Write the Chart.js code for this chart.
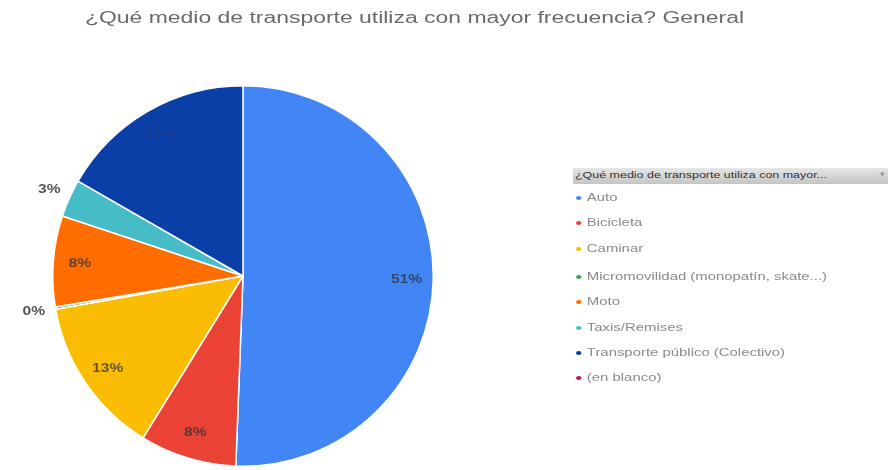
<!DOCTYPE html>
<html>
<head>
<meta charset="utf-8">
<script src="https://cdn.jsdelivr.net/npm/chart.js@4.4.0/dist/chart.umd.min.js"></script>
<style>
    body { margin: 0; background: #fff; font-family: Arial, "Liberation Sans", sans-serif; }
    #wrap { position: relative; width: 888px; height: 470px; overflow: hidden; }
    #chart { position: absolute; left: 0; top: 0; }
    #title { position: absolute; left: 85px; top: 9px; font-size: 16px; color: #6a6a6a; white-space: nowrap; transform-origin: 0 0; }
    #legendHead { position: absolute; left: 573px; top: 168px; width: 315px; height: 16px;
        background: linear-gradient(#e6e6e6, #c4c4c4); }
    #legendHead span { position: absolute; left: 2px; top: 2px; font-size: 9px; color: #333; white-space: nowrap; transform-origin: 0 0; }
    #legendHead b { position: absolute; right: 3px; top: 1px; font-size: 9px; color: #999; font-weight: normal; }
    .legend-item { position: absolute; left: 576px; font-size: 11px; color: #8a8a8a; white-space: nowrap; transform-origin: 0 50%; }
    .legend-item i { display: inline-block; width: 4px; height: 4px; border-radius: 2px; margin-right: 4px; vertical-align: middle; }
</style>
</head>
<body>
<div id="wrap">
    <canvas id="chart" width="888" height="470"></canvas>
    <div id="title">¿Qué medio de transporte utiliza con mayor frecuencia? General</div>
    <div id="legendHead"><span>¿Qué medio de transporte utiliza con mayor...</span><b>▾</b></div>
    <div id="legend"></div>
</div>
<script>
// Data
const categories = [
    'Auto',
    'Bicicleta',
    'Caminar',
    'Micromovilidad (monopatín, skate...)',
    'Moto',
    'Taxis/Remises',
    'Transporte público (Colectivo)',
    '(en blanco)'
];
const shares = [50.6, 8.2, 13.4, 0.2, 7.7, 3.2, 16.7, 0];
const sliceColors = ['#4285f4', '#ea4335', '#fbbc04', '#34a853', '#ff6d01', '#46bdc6', '#0b3fa8', '#c2185b'];

// Stretch a text element horizontally to a target width
function fitWidth(el, target) {
    const w = el.getBoundingClientRect().width;
    el.style.transform = 'scaleX(' + (target / w) + ')';
}

fitWidth(document.getElementById('title'), 659);
fitWidth(document.querySelector('#legendHead span'), 252);

// Legend
const legend = document.getElementById('legend');
const rowTops = [198, 223, 249, 277, 302, 328, 353, 378];
categories.forEach((name, i) => {
    const row = document.createElement('div');
    row.className = 'legend-item';
    row.style.top = (rowTops[i] - 7) + 'px';
    row.innerHTML = `<i style="background:${sliceColors[i]}"></i>${name}`;
    legend.appendChild(row);
});
const rows = legend.querySelectorAll('.legend-item');
const longW = rows[3].getBoundingClientRect().width;
rows.forEach(r => r.style.transform = 'scaleX(' + (251 / longW) + ')');

// Percentage labels on slices
const sliceLabels = {
    id: 'sliceLabels',
    afterDatasetsDraw(chart) {
        const ctx = chart.ctx;
        const meta = chart.getDatasetMeta(0);
        ctx.save();
        ctx.textAlign = 'center';
        ctx.textBaseline = 'middle';
        meta.data.forEach((arc, i) => {
            const v = shares[i];
            if (v <= 0) return;
            const mid = (arc.startAngle + arc.endAngle) / 2;
            const inside = v >= 5;
            const r = inside ? arc.outerRadius * 0.86 : arc.outerRadius + 22;
            const x = arc.x + Math.cos(mid) * r;
            const y = arc.y + Math.sin(mid) * r;
            ctx.font = 'bold 13px Arial, "Liberation Sans", sans-serif';
            ctx.fillStyle = inside ? (i === 6 ? 'rgba(30,60,140,0.9)' : 'rgba(50,50,60,0.75)') : '#555';
            ctx.save();
            ctx.translate(x, y);
            ctx.scale(1.2, 1);
            ctx.fillText(Math.round(v) + '%', 0, 0);
            ctx.restore();
        });
        ctx.restore();
    }
};

new Chart(document.getElementById('chart'), {
    type: 'pie',
    data: {
        labels: categories,
        datasets: [{
            data: shares,
            backgroundColor: sliceColors,
            borderColor: '#ffffff',
            borderWidth: 1.5
        }]
    },
    options: {
        responsive: false,
        animation: false,
        layout: { padding: { left: 52, top: 85, right: 454, bottom: 3 } },
        plugins: {
            legend: { display: false },
            tooltip: { enabled: false }
        }
    },
    plugins: [sliceLabels]
});
</script>
</body>
</html>
